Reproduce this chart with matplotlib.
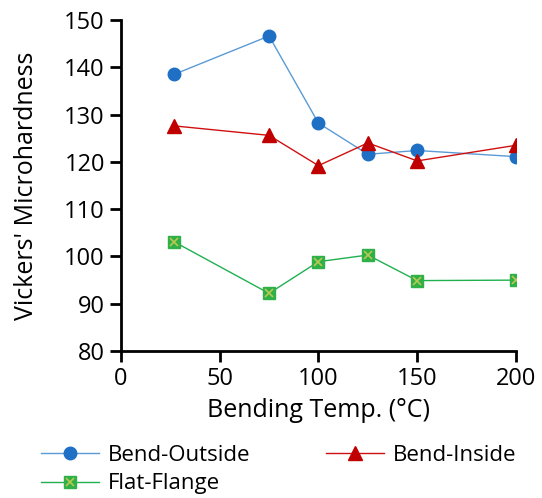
import matplotlib
matplotlib.use("Agg")
from matplotlib import pyplot as plt
from matplotlib.legend_handler import HandlerTuple

# data
temps = [27, 75, 100, 125, 150, 200]
bend_outside = [138.5, 146.6, 128.2, 121.6, 122.4, 121.1]
bend_inside = [127.6, 125.6, 119.2, 124.0, 120.2, 123.5]
flat_flange = [103.1, 92.2, 98.9, 100.3, 94.9, 95.0]
x_ticks = [0, 50, 100, 150, 200]
y_ticks = [80, 90, 100, 110, 120, 130, 140, 150]

plt.rcParams['font.family'] = ['Open Sans', 'DejaVu Sans']

fig = plt.figure(figsize=(5.42, 4.98), dpi=100)
ax = fig.add_axes([0.223, 0.295, 0.729, 0.665])

l1, = ax.plot(temps, bend_outside, color='#5B9BD5', lw=1.0, marker='o',
              ms=9, mfc='#1F6FC5', mec='#1F6FC5', zorder=3)
l2, = ax.plot(temps, bend_inside, color='#D01010', lw=1.0, marker='^',
              ms=10, mfc='#C00000', mec='#C00000', zorder=3)
l3, = ax.plot(temps, flat_flange, color='#20B050', lw=1.0, marker='s',
              ms=8, mfc='#30B048', mec='#30B048', zorder=3)
l3x, = ax.plot(temps, flat_flange, ls='none', marker='x', ms=6,
               mec='#B8C850', mew=1.2, zorder=4)

ax.set_xlim(0, 200)
ax.set_ylim(80, 150)
ax.set_xticks(x_ticks)
ax.set_yticks(y_ticks)
ax.spines['top'].set_visible(False)
ax.spines['right'].set_visible(False)
ax.spines['left'].set_linewidth(2)
ax.spines['bottom'].set_linewidth(2)
ax.tick_params(axis='both', direction='out', length=8, width=2, labelsize=17)
ax.set_xlabel("Bending Temp. (°C)", fontsize=18, labelpad=5)
ax.set_ylabel("Vickers' Microhardness", fontsize=18, labelpad=18)

fig.legend([l1, (l3, l3x), l2], ["Bend-Outside", "Flat-Flange", "Bend-Inside"],
           handler_map={tuple: HandlerTuple(ndivide=1)},
           ncol=2, frameon=False, fontsize=16, loc='upper left',
           bbox_to_anchor=(0.06, 0.125), columnspacing=3.4,
           handlelength=2.6, handletextpad=0.4, labelspacing=0.35,
           borderaxespad=0)

fig.savefig("out.png", dpi=100)
